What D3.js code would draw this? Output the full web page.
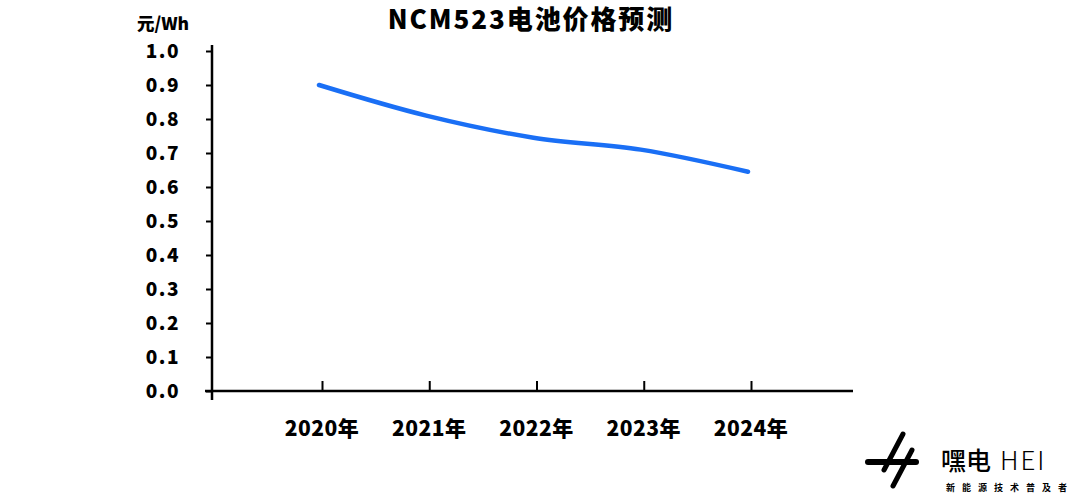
<!DOCTYPE html>
<html><head><meta charset="utf-8">
<script src="https://cdn.jsdelivr.net/npm/d3@7"></script>
<style>body{margin:0;background:#fff}svg{display:block}text{font-family:"Noto Sans CJK SC","Noto Sans",sans-serif}</style>
</head><body>
<svg id="c" width="1080" height="494"></svg>
<script>
const categories = ["2020年","2021年","2022年","2023年","2024年"];
const prices = [0.90, 0.81, 0.745, 0.71, 0.645];
const yTicks = [0,0.1,0.2,0.3,0.4,0.5,0.6,0.7,0.8,0.9,1.0];
const title = "NCM523电池价格预测";
const yUnit = "元/Wh";

const svg = d3.select("#c");
const x0 = 212, x1 = 853, yTop = 51, yBot = 391;
const x = d3.scalePoint().domain(categories).range([322, 751]);
const y = d3.scaleLinear().domain([0, 1]).range([yBot, yTop]);

// title
svg.append("text").attr("x", 531).attr("y", 29).attr("text-anchor","middle")
  .attr("font-size", 26).attr("font-weight", 900).attr("letter-spacing", 1.9).text(title);
svg.append("text").attr("x", 137).attr("y", 30).attr("font-size", 17.5).attr("font-weight", 900).text(yUnit);

// y axis
const ya = svg.append("g").attr("transform", `translate(${x0},0)`)
  .call(d3.axisLeft(y).tickValues(yTicks).tickFormat(d3.format(".1f")).tickSize(6).tickPadding(26));
ya.select(".domain").remove();
ya.selectAll(".tick line").attr("stroke","#000").attr("stroke-width",2);
ya.selectAll(".tick text").attr("font-size",19).attr("font-weight",900).attr("fill","#000")
  .attr("letter-spacing",1.5)
  .attr("font-family","'Noto Sans CJK SC',sans-serif");
svg.append("line").attr("x1",x0).attr("x2",x0).attr("y1",yTop-6).attr("y2",yBot+9)
  .attr("stroke","#000").attr("stroke-width",2.5);

// x axis
const xa = svg.append("g").attr("transform", `translate(0,${yBot})`)
  .call(d3.axisTop(x).tickSize(10).tickFormat(""));
xa.select(".domain").remove();
xa.selectAll(".tick line").attr("stroke","#000").attr("stroke-width",2);
svg.append("line").attr("x1",x0-7).attr("x2",x1).attr("y1",yBot).attr("y2",yBot)
  .attr("stroke","#000").attr("stroke-width",2.5);
svg.append("g").selectAll("text").data(categories).join("text")
  .attr("x", d => x(d)).attr("y", 436).attr("text-anchor","middle")
  .attr("font-size",21).attr("font-weight",900).attr("letter-spacing",0.5).text(d => d);

// line
svg.append("path").datum(prices)
  .attr("d", d3.line().x((d,i)=>x(categories[i])-3).y(d=>y(d)).curve(d3.curveMonotoneX))
  .attr("fill","none").attr("stroke","#1a6ff5").attr("stroke-width",4.5).attr("stroke-linecap","round");

// logo
const lg = svg.append("g");
lg.append("line").attr("x1",868).attr("y1",462).attr("x2",916).attr("y2",462).attr("stroke","#000").attr("stroke-width",6).attr("stroke-linecap","round");
lg.append("line").attr("x1",884).attr("y1",470).attr("x2",903).attr("y2",434).attr("stroke","#000").attr("stroke-width",5).attr("stroke-linecap","round");
lg.append("line").attr("x1",893).attr("y1",486).attr("x2",912).attr("y2",450).attr("stroke","#000").attr("stroke-width",5).attr("stroke-linecap","round");
lg.append("text").attr("x",941).attr("y",470).attr("font-size",25).attr("font-weight",500).text("嘿电");
lg.append("text").attr("x",1000).attr("y",470).attr("font-size",26).attr("font-weight",200)
  .attr("font-family","'DejaVu Sans',sans-serif").attr("letter-spacing",2).text("HEI");
lg.append("text").attr("x",946).attr("y",491).attr("font-size",9).attr("font-weight",700).attr("letter-spacing",7).text("新能源技术普及者");
</script>
</body></html>
